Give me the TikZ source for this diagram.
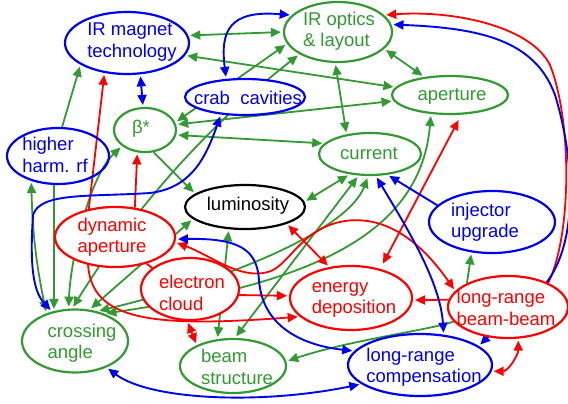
\documentclass[tikz,border=0pt]{standalone}
\usepackage{fontspec}
\setmainfont{Liberation Sans}
\usetikzlibrary{arrows.meta,shapes.geometric}
\definecolor{grn}{RGB}{51,153,51}
\definecolor{blu}{RGB}{0,0,240}
\definecolor{rd}{RGB}{255,0,0}
\pgfdeclarelayer{bg}
\pgfsetlayers{bg,main}
\begin{document}
\begin{tikzpicture}[x=1pt,y=-1pt,
  ell/.style={ellipse, draw=#1, line width=2.2pt, fill=white, inner sep=0pt},
  txt/.style={text=#1, align=left, inner sep=0pt, font=\fontsize{18.5}{21.5}\selectfont},
  eg/.style={draw=grn, line width=1.8pt},
  eb/.style={draw=blu, line width=1.9pt},
  er/.style={draw=rd, line width=1.8pt},
  one/.style={-{Triangle[length=10pt,width=9pt]}, shorten >=2pt},
  two/.style={{Triangle[length=10pt,width=9pt]}-{Triangle[length=10pt,width=9pt]}, shorten >=2pt, shorten <=2pt}
]
\useasboundingbox (0,0) rectangle (568,404);

% nodes
\node[ell=blu, minimum width=124pt, minimum height=62pt] (irm) at (127,43) {};
\node[txt=blu] (irmt) at (132,42) {IR magnet\\technology};
\node[ell=grn, minimum width=108pt, minimum height=60pt] (iro) at (338,32) {};
\node[txt=grn] (irot) at (339,31) {IR optics\\\& layout};
\node[ell=blu, minimum width=120pt, minimum height=36pt] (crab) at (245,97) {};
\node[txt=blu] (crabt) at (248,98) {crab~ cavities};
\node[ell=grn, minimum width=116pt, minimum height=38pt] (apt) at (450,95) {};
\node[txt=grn] (aptt) at (452,96) {aperture};
\node[ell=grn, minimum width=62pt, minimum height=44pt] (beta) at (145,130) {};
\node[txt=grn] (betat) at (141,129) {β*};
\node[ell=blu, fill=none, minimum width=102pt, minimum height=56pt] (hhrf) at (58,156) {};
\node[txt=blu] (hhrft) at (55,155) {higher\\harm. rf};
\node[ell=grn, minimum width=102pt, minimum height=42pt] (cur) at (370,154) {};
\node[txt=grn] (curt) at (369,154) {current};
\node[ell=black, minimum width=120pt, minimum height=44pt] (lum) at (245,207) {};
\node[txt=black] (lumt) at (248,206) {luminosity};
\node[ell=blu, minimum width=126pt, minimum height=62pt] (inj) at (492,222) {};
\node[txt=blu] (injt) at (485,222) {injector\\upgrade};
\node[ell=rd, minimum width=120pt, minimum height=60pt] (dyn) at (115,237) {};
\node[txt=rd] (dynt) at (112,237) {dynamic\\aperture};
\node[ell=rd, minimum width=98pt, minimum height=62pt] (ecl) at (190,289) {};
\node[txt=rd] (eclt) at (192,293) {electron\\cloud};
\node[ell=rd, minimum width=122pt, minimum height=64pt] (edep) at (351,298) {};
\node[txt=rd] (edept) at (354,300) {energy\\deposition};
\node[ell=rd, minimum width=120pt, minimum height=62pt] (lrbb) at (508,307) {};
\node[txt=rd] (lrbbt) at (506,308) {long-range\\beam-beam};
\node[ell=grn, minimum width=106pt, minimum height=63pt] (xang) at (75,341) {};
\node[txt=grn] (xangt) at (82,343) {crossing\\angle};
\node[ell=grn, minimum width=106pt, minimum height=54pt] (bstr) at (233,366) {};
\node[txt=grn] (bstrt) at (237,367) {beam\\structure};
\node[ell=blu, minimum width=144pt, minimum height=62pt] (lrc) at (420,365) {};
\node[txt=blu] (lrct) at (424,367) {long-range\\compensation};

\begin{pgfonlayer}{bg}
% green
\draw[eg,two] (irm.7) -- (iro.180);
\draw[eg,two] (irm.-12) -- (apt.172);
\draw[eg,two] (beta.10) -- (apt.186);
\draw[eg,two] (iro.193) -- (beta.14);
\draw[eg,two] (iro.210) .. controls (205,128) and (132,212) .. (xang.95);
\draw[eg,one] (hhrf.82) -- (irm.205);
\draw[eg,two] (hhrf.223) to[bend right=5] (xang.136);
\draw[eg,one] (hhrf.-98) -- (xang.125);
\draw[eg,two] (beta.215) .. controls (88,178) and (70,265) .. (xang.101);
\draw[eg,two] (xang.65) -- (lum.193);
\draw[eg,two] (xang.53) .. controls (250,274) and (350,225) .. (cur.-95);
\draw[eg,two] (xang.43) .. controls (300,285) and (420,240) .. (apt.-135);
\draw[eg,one] (beta.-69) -- (lum.165);
\draw[eg,two] (beta.-9) -- (cur.167);
\draw[eg,two] (lum.5) -- (cur.-135);
\draw[eg,two] (bstr.86) -- (cur.-118);
\draw[eg,two] (lum.-126) -- (bstr.120);
\draw[eg,two] (iro.-20) -- (apt.145);
\draw[eg,two] (iro.-95) -- (cur.140);
\draw[eg,one] (lrbb.195) .. controls (430,330) and (350,340) .. (bstr.5);
\draw[eg,one] (lrbb.150) -- (inj.-124);
% red
\draw[er,one] (dyn.133) -- (irm.-127);
\draw[er,one] (dyn.56) -- (beta.-109);
\draw[er,one] (dyn.-134) .. controls (92,320) and (150,328) .. (edep.200);
\draw[er,one] (ecl.-7) -- (edep.178);
\draw[er] (dyn.-40) -- (ecl.151);
\draw[er,two] (ecl.-95) -- (bstr.150);
\draw[er,two] (lum.-22) -- (edep.125);
\draw[er,one] (lrbb.173) -- (edep.-2);
\draw[er,two] (lrbb.-72) to[out=-90,in=0] (lrc.-5);
\draw[er,one] (lrbb.31) .. controls (572,235) and (572,120) .. (550,65)
   .. controls (530,25) and (450,10) .. (iro.20);
\draw[er,two] (dyn.-5) .. controls (210,255) and (240,280) .. (268,272)
   .. controls (290,266) and (300,228) .. (345,221)
   .. controls (395,214) and (430,255) .. (lrbb.163);
\draw[er,two,shorten >=6pt,shorten <=6pt] (edep.45) -- (apt.-60);
% blue
\draw[eb,two] (irm.-67) -- (beta.95);
\draw[eb,two] (iro.160) .. controls (230,10) and (220,30) .. (crab.136);
\draw[eb,two] (crab.-144) .. controls (205,160) and (190,188) .. (150,193)
   .. controls (90,197) and (40,192) .. (33,215)
   .. controls (30,260) and (32,290) .. (xang.128);
\draw[eb,one] (inj.163) -- (cur.-50);
\draw[eb,two] (cur.-75) .. controls (405,225) and (440,280) .. (lrc.52);
\draw[eb,two] (lrc.168) .. controls (300,345) and (262,325) .. (259,280)
   .. controls (257,250) and (240,238) .. (dyn.-2);
\draw[eb,two] (xang.-40) .. controls (150,400) and (260,405) .. (lrc.198);
\draw[eb,two] (iro.8) .. controls (480,28) and (535,40) .. (555,95)
   .. controls (575,160) and (580,250) .. (540,290)
   .. controls (515,312) and (495,330) .. (lrc.18);
\end{pgfonlayer}
\end{tikzpicture}
\end{document}
